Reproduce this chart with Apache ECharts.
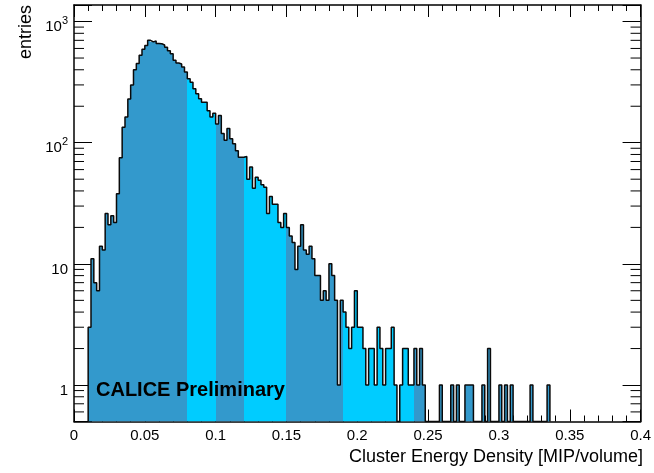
<!DOCTYPE html>
<html><head><meta charset="utf-8">
<script src="https://cdn.jsdelivr.net/npm/echarts@6/dist/echarts.min.js"></script>
<style>html,body{margin:0;padding:0;background:#fff}#c{width:654px;height:473px}</style>
</head><body><div id="c"></div>
<script>
// ---- data ----
const binStart = 0.010;
const binWidth = 0.002;
const counts = [
  3, 11, 7, 6, 14, 13, 26, 21, 25, 22,
  38, 75, 134, 163, 230, 300, 400, 450, 526, 590,
  635, 700, 680, 690, 660, 656, 640, 615, 575, 543,
  480, 455, 447, 421, 383, 337, 316, 279, 254, 231,
  216, 216, 184, 163, 175, 143, 168, 119, 105, 131,
  108, 98, 86, 76, 76, 77, 50, 63, 42, 52,
  49, 45, 43, 26, 36, 31, 31, 22, 20, 26,
  20, 17, 15, 9, 14, 21, 13, 12, 14, 11,
  8, 8, 5, 6, 5, 10, 8, 5, 1, 5,
  4, 3, 2, 3, 6, 3, 3, 2, 1, 2,
  2, 1, 3, 2, 1, 2, 2, 3, 1, 0,
  1, 2, 2, 1, 1, 2, 1, 2, 1, 0,
  0, 0, 0, 0, 1, 0, 0, 0, 1, 0,
  1, 0, 0, 1, 1, 1, 0, 0, 0, 1,
  0, 2, 0, 0, 0, 1, 0, 1, 0, 1,
  0, 0, 0, 0, 0, 0, 1, 0, 0, 0,
  0, 0, 1
];
const bandEdges = [0.08, 0.10, 0.12, 0.15, 0.19, 0.24];
const bandColors = ['#3399cc', '#00ccff', '#3399cc', '#00ccff', '#3399cc', '#00ccff', '#3399cc'];
const xMin = 0, xMax = 0.4, xInterval = 0.05;
const yMin = 0.5, yMax = 1370;
const yMinorTicks = [0.6, 0.7, 0.8, 0.9, 2, 3, 4, 5, 6, 7, 8, 9,
  20, 30, 40, 50, 60, 70, 80, 90, 200, 300, 400, 500, 600, 700, 800, 900];
const xTitle = 'Cluster Energy Density [MIP/volume]';
const yTitle = 'entries';
const stamp = 'CALICE Preliminary';

// ---- build ----
const FONT = '"Liberation Sans", Helvetica, Arial, sans-serif';
function bandColor(x0) {
  let k = 0;
  while (k < bandEdges.length && x0 + 1e-9 >= bandEdges[k]) k++;
  return bandColors[k];
}
const fillData = [];
const outline = [];
counts.forEach((c, i) => {
  const x0 = +(binStart + i * binWidth).toFixed(6);
  const x1 = +(binStart + (i + 1) * binWidth).toFixed(6);
  if (c > 0) fillData.push([x0, c, x1]);
  const v = c > 0 ? c : yMin;
  outline.push([x0, v], [x1, v]);
});
outline.unshift([binStart, yMin]);
outline.push([+(binStart + counts.length * binWidth).toFixed(6), yMin]);

function yLabel(v) {
  const e = Math.log10(v);
  const r = Math.round(e);
  if (Math.abs(e - r) > 1e-6) return '';
  if (r === 0) return '{p|1}';
  if (r === 1) return '{p|10}';
  return '{n|10}{s|' + r + '}';
}

const chart = echarts.init(document.getElementById('c'), null, {renderer: 'canvas'});
const axisCommon = {
  axisLine: {show: true, onZero: false, lineStyle: {color: '#000', width: 1.5}},
  splitLine: {show: false}
};
chart.setOption({
  animation: false,
  backgroundColor: '#fff',
  grid: {left: 74, right: 9, top: 5, bottom: 51.5, containLabel: false},
  xAxis: [
    Object.assign({
      type: 'value', min: xMin, max: xMax, interval: xInterval, position: 'bottom',
      axisTick: {show: true, inside: true, length: 12, lineStyle: {color: '#000', width: 1}},
      minorTick: {show: true, splitNumber: 5, length: 6, lineStyle: {color: '#000', width: 1}},
      axisLabel: {color: '#000', fontSize: 15, fontFamily: FONT, margin: 7,
        formatter: v => String(+v.toFixed(2))}
    }, axisCommon),
    Object.assign({
      type: 'value', min: xMin, max: xMax, interval: xInterval, position: 'top',
      axisTick: {show: true, inside: true, length: 12, lineStyle: {color: '#000', width: 1}},
      minorTick: {show: true, splitNumber: 5, length: 6, lineStyle: {color: '#000', width: 1}},
      axisLabel: {show: false}
    }, axisCommon)
  ],
  yAxis: [
    Object.assign({
      type: 'log', logBase: 10, min: yMin, max: yMax, position: 'left',
      axisTick: {show: true, inside: true, length: 18, lineStyle: {color: '#000', width: 1}},
      axisLabel: {color: '#000', margin: 6, formatter: yLabel, padding: [10, 0, 0, 0],
        rich: {
          p: {fontSize: 15, fontFamily: FONT, color: '#000', lineHeight: 15, padding: [2, 0, 0, 0]},
          n: {fontSize: 15, fontFamily: FONT, color: '#000', lineHeight: 15, verticalAlign: 'bottom'},
          s: {fontSize: 11, fontFamily: FONT, color: '#000', lineHeight: 11, verticalAlign: 'bottom', padding: [0, 0, 8, 0]}
        }}
    }, axisCommon),
    Object.assign({
      type: 'log', logBase: 10, min: yMin, max: yMax, position: 'right',
      axisTick: {show: true, inside: true, length: 18, lineStyle: {color: '#000', width: 1}},
      axisLabel: {show: false}
    }, axisCommon)
  ],
  series: [
    {
      type: 'custom', name: 'fill', xAxisIndex: 0, yAxisIndex: 0, silent: true, clip: true,
      encode: {x: 0, y: 1},
      data: fillData,
      renderItem: (params, api) => {
        const x0 = api.value(0), c = api.value(1), x1 = api.value(2);
        const pTop = api.coord([x0, c]);
        const pBot = api.coord([x1, yMin]);
        const xa = Math.round(pTop[0]), xb = Math.round(pBot[0]);
        return {
          type: 'rect',
          shape: {x: xa, y: pTop[1], width: xb - xa, height: pBot[1] - pTop[1]},
          style: {fill: bandColor(x0), stroke: null}
        };
      }
    },
    {
      type: 'line', name: 'outline', xAxisIndex: 0, yAxisIndex: 0, silent: true,
      data: outline, showSymbol: false, symbol: 'none', clip: true,
      lineStyle: {color: '#0a0a0a', width: 1.5}
    },
    {
      type: 'custom', name: 'yminor', xAxisIndex: 0, yAxisIndex: 0, silent: true,
      encode: {x: 0, y: 1},
      data: yMinorTicks.map(v => [xMin, v]),
      renderItem: (params, api) => {
        const v = api.value(1);
        const l = api.coord([xMin, v]);
        const r = api.coord([xMax, v]);
        const st = {stroke: '#000', lineWidth: 1};
        return {type: 'group', children: [
          {type: 'line', shape: {x1: l[0], y1: l[1], x2: l[0] + 10, y2: l[1]}, style: st},
          {type: 'line', shape: {x1: r[0] - 10, y1: r[1], x2: r[0], y2: r[1]}, style: st}
        ]};
      }
    }
  ],
  graphic: [
    {type: 'text', left: 96, top: 380, z: 100,
      style: {text: stamp, font: 'bold 20px ' + FONT, fill: '#000'}},
    {type: 'text', right: 11, top: 448, z: 100,
      style: {text: xTitle, font: '18px ' + FONT, fill: '#000'}},
    {type: 'text', x: 26, y: 5, rotation: Math.PI / 2, z: 100,
      style: {text: yTitle, font: '18px ' + FONT, fill: '#000', align: 'right', verticalAlign: 'middle'}}
  ]
});
</script>
</body></html>
